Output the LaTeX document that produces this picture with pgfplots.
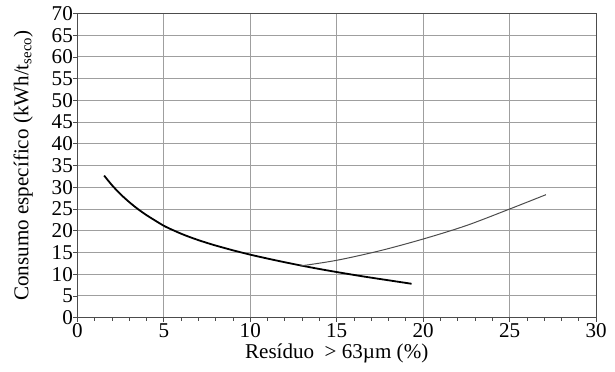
\documentclass[border=0pt]{standalone}
\usepackage{fontspec}
\setmainfont{Liberation Serif}
\usepackage{pgfplots}
\pgfplotsset{compat=1.18}
\begin{document}
\begin{tikzpicture}[font=\fontsize{21}{24}\selectfont]
\begin{axis}[
  scale only axis, width=515bp, height=302bp,
  xmin=0, xmax=30, ymin=0, ymax=70,
  xtick={0,5,...,30}, ytick={0,5,...,70},
  minor x tick num=4,
  grid=major,
  major grid style={draw=gray!75, line width=1pt},
  axis line style={draw=gray!60!black, line width=1.1pt},
  tick style={draw=gray!60!black, line width=0.8pt},
  tick align=outside,
  major tick length=4bp, minor tick length=3bp,
  xtick pos=bottom, ytick pos=left,
  /pgf/number format/assume math mode=true,
  xticklabel style={yshift=2bp},
  yticklabel style={xshift=3bp},
  xlabel={Resíduo\ \ > 63µm (\%)},
  ylabel={Consumo específico (kWh/t\textsubscript{seco})},
  xlabel style={yshift=0bp},
  ylabel style={yshift=12bp},
]
\addplot[black, line width=1.8pt, smooth] coordinates {
 (1.55,32.7) (2,30.5) (2.5,28.4) (3,26.6) (3.5,25.0) (4,23.6) (4.5,22.35) (5,21.15)
 (5.5,20.2) (6,19.33) (6.5,18.55) (7,17.85) (7.5,17.2) (8,16.6) (9,15.5) (10,14.5)
 (11,13.6) (12,12.75) (13,11.95) (14,11.2) (15,10.5) (16,9.83) (17,9.2) (18,8.6)
 (19,8.0) (19.33,7.8)
};
\addplot[black!70, line width=1pt, smooth] coordinates {
 (12.9,11.9) (15,13.2) (17.5,15.4) (20,18.1) (22.5,21.2) (25,25.0) (27.1,28.3)
};
\end{axis}
\path (current bounding box.south west) ++(-10bp,-5bp) coordinate (bbsw);
\path (current bounding box.north east) ++(5bp,3bp) coordinate (bbne);
\path (bbsw) rectangle (bbne);
\end{tikzpicture}
\end{document}
